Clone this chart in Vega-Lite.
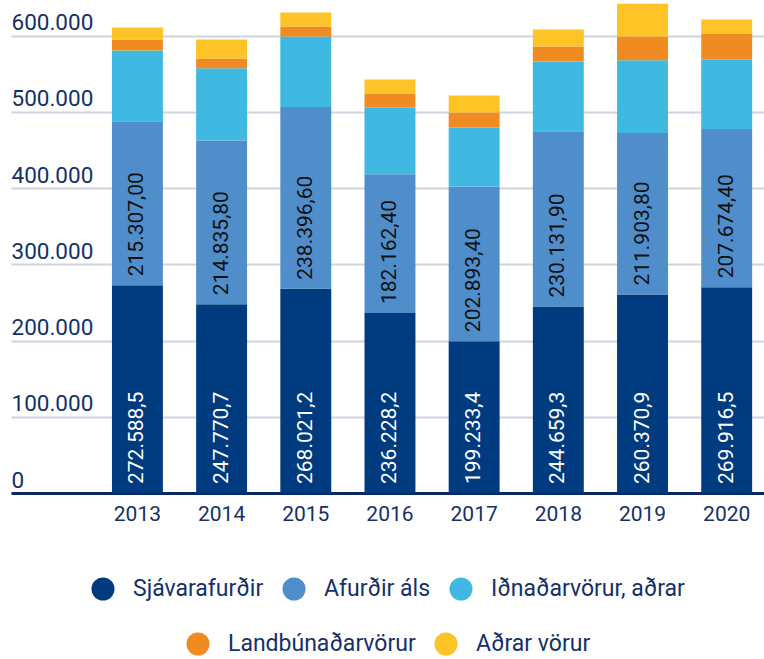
{
  "$schema": "https://vega.github.io/schema/vega-lite/v6.json",
  "width": 753,
  "height": 490,
  "padding": {"left": 11, "top": 3, "right": 0, "bottom": 0},
  "autosize": {"type": "pad"},
  "config": {
    "view": {"stroke": null},
    "locale": {"number": {"decimal": ",", "thousands": ".", "grouping": [3], "currency": ["", ""]}},
    "font": "Roboto"
  },
  "data": {
    "values": [
      {"year": "2013", "cat": "Sjávarafurðir", "value": 272588.5},
      {"year": "2013", "cat": "Afurðir áls", "value": 215307.0},
      {"year": "2013", "cat": "Iðnaðarvörur, aðrar", "value": 92700},
      {"year": "2013", "cat": "Landbúnaðarvörur", "value": 14400},
      {"year": "2013", "cat": "Aðrar vörur", "value": 15700},
      {"year": "2014", "cat": "Sjávarafurðir", "value": 247770.7},
      {"year": "2014", "cat": "Afurðir áls", "value": 214835.8},
      {"year": "2014", "cat": "Iðnaðarvörur, aðrar", "value": 94800},
      {"year": "2014", "cat": "Landbúnaðarvörur", "value": 12700},
      {"year": "2014", "cat": "Aðrar vörur", "value": 24900},
      {"year": "2015", "cat": "Sjávarafurðir", "value": 268021.2},
      {"year": "2015", "cat": "Afurðir áls", "value": 238396.6},
      {"year": "2015", "cat": "Iðnaðarvörur, aðrar", "value": 92600},
      {"year": "2015", "cat": "Landbúnaðarvörur", "value": 13100},
      {"year": "2015", "cat": "Aðrar vörur", "value": 18300},
      {"year": "2016", "cat": "Sjávarafurðir", "value": 236228.2},
      {"year": "2016", "cat": "Afurðir áls", "value": 182162.4},
      {"year": "2016", "cat": "Iðnaðarvörur, aðrar", "value": 87500},
      {"year": "2016", "cat": "Landbúnaðarvörur", "value": 18300},
      {"year": "2016", "cat": "Aðrar vörur", "value": 18400},
      {"year": "2017", "cat": "Sjávarafurðir", "value": 199233.4},
      {"year": "2017", "cat": "Afurðir áls", "value": 202893.4},
      {"year": "2017", "cat": "Iðnaðarvörur, aðrar", "value": 77600},
      {"year": "2017", "cat": "Landbúnaðarvörur", "value": 19600},
      {"year": "2017", "cat": "Aðrar vörur", "value": 22300},
      {"year": "2018", "cat": "Sjávarafurðir", "value": 244659.3},
      {"year": "2018", "cat": "Afurðir áls", "value": 230131.9},
      {"year": "2018", "cat": "Iðnaðarvörur, aðrar", "value": 91400},
      {"year": "2018", "cat": "Landbúnaðarvörur", "value": 19600},
      {"year": "2018", "cat": "Aðrar vörur", "value": 22300},
      {"year": "2019", "cat": "Sjávarafurðir", "value": 260370.9},
      {"year": "2019", "cat": "Afurðir áls", "value": 211903.8},
      {"year": "2019", "cat": "Iðnaðarvörur, aðrar", "value": 95600},
      {"year": "2019", "cat": "Landbúnaðarvörur", "value": 31100},
      {"year": "2019", "cat": "Aðrar vörur", "value": 43200},
      {"year": "2020", "cat": "Sjávarafurðir", "value": 269916.5},
      {"year": "2020", "cat": "Afurðir áls", "value": 207674.4},
      {"year": "2020", "cat": "Iðnaðarvörur, aðrar", "value": 91200},
      {"year": "2020", "cat": "Landbúnaðarvörur", "value": 34100},
      {"year": "2020", "cat": "Aðrar vörur", "value": 18300}
    ]
  },
  "transform": [{"stack": "value", "groupby": ["year"], "as": ["v0", "v1"]}],
  "encoding": {
    "x": {
      "field": "year",
      "type": "ordinal",
      "scale": {"paddingInner": 0.395, "paddingOuter": 0.67, "align": 0.895},
      "axis": {
        "title": null,
        "labelAngle": 0,
        "domainColor": "#0b2865",
        "domainWidth": 3,
        "ticks": false,
        "tickSize": 0,
        "labelPadding": 10,
        "labelFontSize": 21,
        "labelFont": "Roboto",
        "labelColor": "#14306a",
        "grid": false
      }
    }
  },
  "layer": [
    {
      "transform": [{"filter": {"field": "cat", "oneOf": ["Sjávarafurðir", "Afurðir áls", "Iðnaðarvörur, aðrar"]}}],
      "mark": {"type": "bar"},
      "encoding": {
        "y": {
          "field": "v1",
          "type": "quantitative",
          "scale": {"domain": [0, 643000], "nice": false},
          "axis": {
            "title": null,
            "values": [0, 100000, 200000, 300000, 400000, 500000, 600000],
            "format": ",d",
            "domain": false,
            "ticks": false,
            "tickSize": 0,
            "labelAlign": "left",
            "labelBaseline": "alphabetic",
            "labelPadding": 0,
            "labelOffset": -6,
            "labelFontSize": 22.5,
            "labelFont": "Roboto",
            "labelColor": "#14306a",
            "gridColor": "#cdd4df",
            "gridWidth": 2,
            "grid": true
          }
        },
        "y2": {"field": "v0"},
        "color": {
          "field": "cat",
          "type": "nominal",
          "scale": {"domain": ["Sjávarafurðir", "Afurðir áls", "Iðnaðarvörur, aðrar"], "range": ["#003b80", "#4f8ecb", "#3fb9e2"]},
          "legend": {
            "orient": "none",
            "legendX": 80,
            "legendY": 574,
            "direction": "horizontal",
            "title": null,
            "symbolType": "circle",
            "symbolSize": 530,
            "symbolStrokeWidth": 0,
            "symbolOpacity": 1,
            "labelFontSize": 23,
            "labelFont": "Roboto",
            "labelColor": "#14306a",
            "labelOffset": 18,
            "columnPadding": 18,
            "labelLimit": 400
          }
        }
      }
    },
    {
      "transform": [{"filter": {"field": "cat", "oneOf": ["Landbúnaðarvörur", "Aðrar vörur"]}}],
      "mark": {"type": "bar"},
      "encoding": {
        "y": {"field": "v1", "type": "quantitative"},
        "y2": {"field": "v0"},
        "fill": {
          "field": "cat",
          "type": "nominal",
          "scale": {"domain": ["Landbúnaðarvörur", "Aðrar vörur"], "range": ["#f08b22", "#fec325"]},
          "legend": {
            "orient": "none",
            "legendX": 175,
            "legendY": 629,
            "direction": "horizontal",
            "title": null,
            "symbolType": "circle",
            "symbolSize": 530,
            "symbolStrokeWidth": 0,
            "symbolOpacity": 1,
            "labelFontSize": 23,
            "labelFont": "Roboto",
            "labelColor": "#14306a",
            "labelOffset": 18,
            "columnPadding": 18,
            "labelLimit": 400
          }
        }
      }
    },
    {
      "transform": [{"filter": {"field": "cat", "equal": "Sjávarafurðir"}}],
      "mark": {"type": "text", "angle": 270, "align": "left", "baseline": "middle", "dx": 9, "color": "#ffffff", "fontSize": 21, "font": "Roboto"},
      "encoding": {
        "y": {"field": "v0", "type": "quantitative"},
        "text": {"field": "value", "type": "quantitative", "format": ",.1f"}
      }
    },
    {
      "transform": [{"filter": {"field": "cat", "equal": "Afurðir áls"}}],
      "mark": {"type": "text", "angle": 270, "align": "left", "baseline": "middle", "dx": 9, "color": "#111111", "fontSize": 21, "font": "Roboto"},
      "encoding": {
        "y": {"field": "v0", "type": "quantitative"},
        "text": {"field": "value", "type": "quantitative", "format": ",.2f"}
      }
    }
  ]
}
